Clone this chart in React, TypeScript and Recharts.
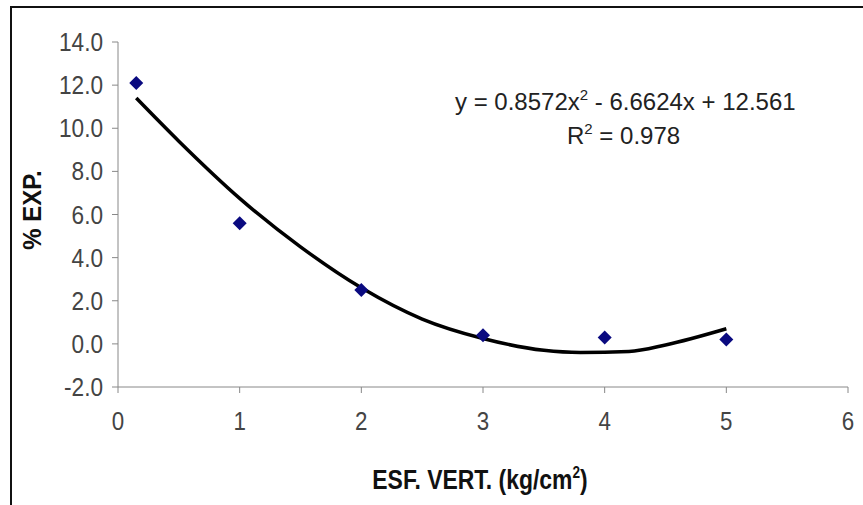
import { ComposedChart, Scatter, Line, XAxis, YAxis } from 'recharts'

const pointX = [0.15, 1, 2, 3, 4, 5]
const pointY = [12.1, 5.6, 2.5, 0.4, 0.3, 0.2]

// trend curve
const trendX = [0.15, 0.5, 1, 1.5, 2, 2.5, 3, 3.5, 3.8, 4.2, 4.5, 5]
const trendY = [11.4, 9.4, 6.75, 4.5, 2.6, 1.15, 0.25, -0.3, -0.4, -0.35, -0.05, 0.7]

const xTicks = [0, 1, 2, 3, 4, 5, 6]
const yTicks = [-2, 0, 2, 4, 6, 8, 10, 12, 14]

const points = pointX.map((x, i) => ({ x, y: pointY[i] }))
const trend = trendX.map((x, i) => ({ x, t: trendY[i] }))

const font = '"Liberation Sans", Arial, sans-serif'
const tickColor = '#444'

function XTick(props: any) {
  const { x, y, payload } = props
  return (
    <g transform={`translate(${x},${y + 37})`}>
      <text transform="scale(0.86,1)" textAnchor="middle" fontSize={26} fontFamily={font} fill={tickColor}>
        {payload.value}
      </text>
    </g>
  )
}

function YTick(props: any) {
  const { x, y, payload } = props
  return (
    <g transform={`translate(${x - 9},${y + 9})`}>
      <text transform="scale(0.87,1)" textAnchor="end" fontSize={26} fontFamily={font} fill={tickColor}>
        {Number(payload.value).toFixed(1)}
      </text>
    </g>
  )
}

function Diamond(props: any) {
  const { cx, cy } = props
  const r = 7
  return <path d={`M${cx},${cy - r}L${cx + r},${cy}L${cx},${cy + r}L${cx - r},${cy}Z`} fill="#0a0a80" />
}

export default function App() {
  return (
    <div style={{ position: 'absolute', left: 0, top: 0, width: 863, height: 505, background: '#fff', overflow: 'hidden' }}>
      <div style={{ position: 'absolute', left: 10, top: 6, width: 900, height: 600, borderTop: '2px solid #111', borderLeft: '2px solid #111' }} />
      <ComposedChart width={863} height={505} margin={{ top: 42, right: 15, bottom: 0, left: 0 }} style={{ position: 'absolute', left: 0, top: 0 }}>
        <XAxis
          type="number"
          dataKey="x"
          domain={[0, 6]}
          ticks={xTicks}
          allowDataOverflow
          stroke="#888"
          tickSize={6}
          tickMargin={0}
          tick={<XTick />}
          height={118}
        />
        <YAxis
          type="number"
          domain={[-2, 14]}
          ticks={yTicks}
          stroke="#888"
          width={118}
          tickSize={6}
          tickMargin={0}
          tick={<YTick />}
        />
        <Line data={trend} dataKey="t" type="monotone" stroke="#000" strokeWidth={3.5} dot={false} isAnimationActive={false} />
        <Scatter data={points} dataKey="y" shape={<Diamond />} isAnimationActive={false} />
      </ComposedChart>
      <svg width={863} height={505} style={{ position: 'absolute', left: 0, top: 0, pointerEvents: 'none' }}>
        <g transform="translate(41,210) rotate(-90)">
          <text transform="scale(0.92,1)" textAnchor="middle" fontSize={26} fontWeight="bold" fontFamily={font} fill="#111">
            % EXP.
          </text>
        </g>
        <g transform="translate(480,489)">
          <text transform="scale(0.85,1)" textAnchor="middle" fontSize={27} fontWeight="bold" fontFamily={font} fill="#111">
            ESF. VERT. (kg/cm<tspan dy={-11} fontSize={16}>2</tspan>
            <tspan dy={11}>)</tspan>
          </text>
        </g>
        <text x={455} y={110} fontSize={24} fontFamily={font} fill="#222">
          y = 0.8572x<tspan dy={-10} fontSize={15}>2</tspan>
          <tspan dy={10}> - 6.6624x + 12.561</tspan>
        </text>
        <text x={567} y={144} fontSize={24} fontFamily={font} fill="#222">
          R<tspan dy={-10} fontSize={15}>2</tspan>
          <tspan dy={10}> = 0.978</tspan>
        </text>
      </svg>
    </div>
  )
}
